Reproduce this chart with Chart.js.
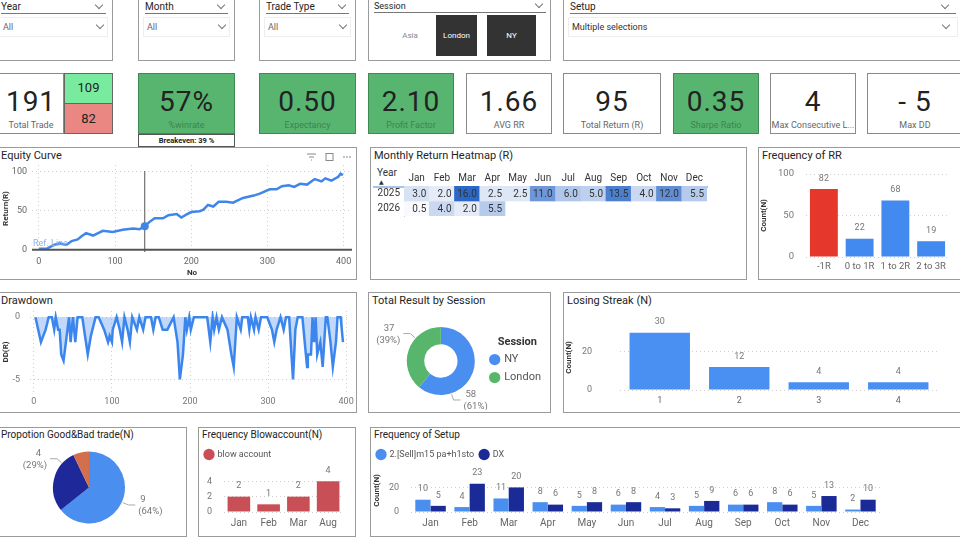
<!DOCTYPE html>
<html>
<head>
<meta charset="utf-8">
<script src="https://cdn.jsdelivr.net/npm/chart.js@4.4.1/dist/chart.umd.min.js"></script>
<style>
body{margin:0;width:960px;height:540px;overflow:hidden;background:#fff;font-family:Roboto,"DejaVu Sans",sans-serif;position:relative}
.box{position:absolute;border:1px solid #9b9b9b;box-sizing:border-box;background:#fff}
.cv{position:absolute}
.ptitle{position:absolute;left:3px;top:1px;font-size:11px;color:#252423;white-space:nowrap}
.sl-title{position:absolute;left:6px;right:6px;top:3px;font-size:10px;color:#252423;border-bottom:1px solid #777;height:12px;line-height:12px}
.sl-drop{position:absolute;left:4px;right:4px;top:19px;height:18px;border:1px solid #eee;font-size:9px;color:#666;line-height:18px;padding-left:3px}
.chev{position:absolute;right:4px;width:5px;height:5px;border-right:1px solid #777;border-bottom:1px solid #777;transform:rotate(45deg)}
.card{position:absolute;top:73px;height:61px;border:1px solid #8a8a8a;box-sizing:border-box;background:#fff;text-align:center}
.card.g{background:#58b56f;border-color:#3d8a52}
.card .v{position:absolute;left:0;right:0;top:12px;font-size:28px;line-height:32px;color:#222;letter-spacing:1px}
.card .l{position:absolute;left:0;right:0;top:45px;font-size:9px;line-height:12px;color:#666;white-space:nowrap}
.card.g .l{color:#3b8551}
.tile{position:absolute;top:14px;height:41px;font-size:8px;line-height:41px;text-align:center}
</style>
</head>
<body>

<!-- slicers -->
<div class="box" style="left:-6px;top:-3px;width:119px;height:64px"><div class="sl-title">Year<span class="chev" style="top:1px"></span></div><div class="sl-drop">All<span class="chev" style="top:4px"></span></div></div>
<div class="box" style="left:138px;top:-3px;width:97px;height:64px"><div class="sl-title">Month<span class="chev" style="top:1px"></span></div><div class="sl-drop">All<span class="chev" style="top:4px"></span></div></div>
<div class="box" style="left:259px;top:-3px;width:97px;height:64px"><div class="sl-title">Trade Type<span class="chev" style="top:1px"></span></div><div class="sl-drop">All<span class="chev" style="top:4px"></span></div></div>
<div class="box" style="left:368px;top:-3px;width:183px;height:64px">
  <div class="sl-title" style="font-size:9px;left:5px;right:4px;top:2px">Session<span class="chev" style="top:1px"></span></div>
  <div class="tile" style="left:22px;width:38px;top:17px;color:#888">Asia</div>
  <div class="tile" style="left:67px;width:41px;top:17px;background:#333;color:#fff">London</div>
  <div class="tile" style="left:118px;width:49px;top:17px;background:#333;color:#fff">NY</div>
</div>
<div class="box" style="left:563px;top:-3px;width:400px;height:64px"><div class="sl-title">Setup<span class="chev" style="top:1px;right:8px"></span></div><div class="sl-drop" style="color:#333">Multiple selections<span class="chev" style="top:4px;right:8px"></span></div></div>

<!-- KPI cards -->
<div class="card" style="left:-2px;width:66px"><div class="v">191</div><div class="l">Total Trade</div></div>
<div class="card" style="left:64px;width:49px;height:31px;background:#78eb9e;border-color:#666"><div class="v" style="top:6px;font-size:13px;line-height:16px;letter-spacing:0">109</div></div>
<div class="card" style="left:64px;top:103px;width:49px;height:31px;background:#ea8782;border-color:#666"><div class="v" style="top:7px;font-size:13px;line-height:16px;letter-spacing:0">82</div></div>
<div class="card g" style="left:138px;width:97px"><div class="v">57%</div><div class="l">%winrate</div></div>
<div class="card" style="left:138px;top:134px;width:97px;height:13px;border-color:#555"><div class="l" style="top:0;font-size:7.5px;line-height:11px;color:#222;font-weight:bold">Breakeven: 39 %</div></div>
<div class="card g" style="left:259px;width:97px"><div class="v">0.50</div><div class="l">Expectancy</div></div>
<div class="card g" style="left:368px;width:86px"><div class="v">2.10</div><div class="l">Profit Factor</div></div>
<div class="card" style="left:466px;width:86px"><div class="v">1.66</div><div class="l">AVG RR</div></div>
<div class="card" style="left:563px;width:98px"><div class="v">95</div><div class="l">Total Return (R)</div></div>
<div class="card g" style="left:673px;width:86px"><div class="v">0.35</div><div class="l">Sharpe Ratio</div></div>
<div class="card" style="left:770px;width:86px"><div class="v">4</div><div class="l">Max Consecutive L...</div></div>
<div class="card" style="left:867px;width:96px"><div class="v">- 5</div><div class="l">Max DD</div></div>

<!-- panels -->
<div class="box" style="left:-3px;top:147px;width:360px;height:133px"><div class="ptitle">Equity Curve</div>
  <svg style="position:absolute;left:306px;top:4px" width="50" height="10">
    <path d="M3 2h9M5 5h5M7 8h1" stroke="#888" stroke-width="1"/>
    <rect x="22" y="1.5" width="7" height="7" fill="none" stroke="#888" stroke-width="1"/>
    <circle cx="40" cy="5" r="0.8" fill="#777"/><circle cx="43" cy="5" r="0.8" fill="#777"/><circle cx="46" cy="5" r="0.8" fill="#777"/>
  </svg>
</div>
<div class="box" style="left:370px;top:147px;width:377px;height:133px"><div class="ptitle">Monthly Return Heatmap (R)</div>
  <div style="position:absolute;left:6px;top:19px;font-size:10px;color:#333">Year</div>
  <div style="position:absolute;left:8px;top:30px;font-size:6px;color:#333">▲</div>
  <div style="position:absolute;left:2px;top:38px;width:335px;height:2px;background:#a9c3e6"></div>
  <div style="position:absolute;left:33px;top:40px;width:1px;height:29px;background:#d0d0d0"></div>
</div>
<div class="box" style="left:758px;top:147px;width:205px;height:133px"><div class="ptitle">Frequency of RR</div></div>
<div class="box" style="left:-3px;top:292px;width:360px;height:121px"><div class="ptitle">Drawdown</div></div>
<div class="box" style="left:368px;top:292px;width:183px;height:121px"><div class="ptitle">Total Result by Session</div></div>
<div class="box" style="left:563px;top:292px;width:400px;height:121px"><div class="ptitle">Losing Streak (N)</div></div>
<div class="box" style="left:-3px;top:427px;width:190px;height:110px"><div class="ptitle" style="font-size:10px">Propotion Good&amp;Bad trade(N)</div></div>
<div class="box" style="left:198px;top:427px;width:158px;height:110px"><div class="ptitle" style="font-size:10px">Frequency Blowaccount(N)</div></div>
<div class="box" style="left:370px;top:427px;width:593px;height:110px"><div class="ptitle" style="font-size:10px">Frequency of Setup</div></div>

<div class="cv" style="left:0;top:162px;width:356px;height:116px"><canvas id="equity"></canvas></div>
<div class="cv" style="left:372px;top:163px;width:340px;height:56px"><canvas id="heat"></canvas></div>
<div class="cv" style="left:758px;top:165px;width:200px;height:113px"><canvas id="rr"></canvas></div>
<div class="cv" style="left:0;top:305px;width:357px;height:106px"><canvas id="dd"></canvas></div>
<div class="cv" style="left:370px;top:312px;width:181px;height:98px"><canvas id="session"></canvas></div>
<div class="cv" style="left:563px;top:315px;width:397px;height:95px"><canvas id="streak"></canvas></div>
<div class="cv" style="left:0;top:440px;width:186px;height:95px"><canvas id="pie"></canvas></div>
<div class="cv" style="left:199px;top:444px;width:157px;height:90px"><canvas id="blow"></canvas></div>
<div class="cv" style="left:371px;top:444px;width:589px;height:90px"><canvas id="setup"></canvas></div>

<script>
// equity curve (trade no -> cumulative R)
let eqNo = [0,10,20,27,36,43,51,56,62,71,84,97,110,124,132,139,146,152,163,170,181,187,194,200,211,216,222,229,236,246,255,259,268,282,290,303,312,319,328,335,343,352,362,371,376,384,393,396,399];
let eqR = [1,1,6,8,6,11,13,17,21,18,24,22.5,25.5,27,26,30,36,40,40,44,45.5,41,45,48,49,51,57,55,61,61,60,62,66,69,71.5,77,77,81,82,80,84,83,90,87,91,88,93,97,95];
let cursorNo = 139;

// drawdown
let ddNo = [2,9,15,19,23,26,28,31,33,35,38,41,45,47,50,53,56,62,69,73,79,83,90,95,97,100,101,106,110,113,116,120,123,126,132,135,140,143,150,153,156,160,165,171,179,184,187,191,194,196,199,201,205,222,226,229,231,234,237,241,248,253,256,260,265,267,274,276,278,282,284,288,291,299,305,308,311,316,320,323,327,332,335,338,344,347,350,351,355,357,359,361,363,367,370,374,376,378,380,383,385,387,389,393,396];
let ddR = [0,-2,-1,0,0,-1,0,-1,-1,-3,-3.5,-2,0,-2,0,-2,0,0,-3,-1.5,0,0,-1,-2,-1.5,-2,-1,0,-1,-2,0,-1,-2,0,-1,0,-1,0,0,-1,0,0,-1,-1,0,-2,-5,-3,0,-1,0,-1,0,0,-2,0,-1,0,-1,0,-1,-3,-4,0,-1,0,0,-1,0,-1,0,-1,0,0,-1,-2,-1,0,-1,0,0,-5,-1,0,0,-2,-4,-3,-3,0,-2,0,-3,-2,-4,0,0,-1,-2,-4,-3,-2,0,0,-2];

// heatmap
let months = ["Jan","Feb","Mar","Apr","May","Jun","Jul","Aug","Sep","Oct","Nov","Dec"];
let years = ["2025","2026"];
let ret2025 = [3.0,2.0,16.0,2.5,2.5,11.0,6.0,5.0,13.5,4.0,12.0,5.5];
let ret2026 = [0.5,4.0,2.0,5.5,null,null,null,null,null,null,null,null];

// frequency of RR
let rrLabels = ["-1R","0 to 1R","1 to 2R","2 to 3R"];
let rrCount = [82,22,68,19];

// session
let sessions = ["NY","London"];
let sessionR = [58,37];

// losing streak
let streakLen = ["1","2","3","4"];
let streakCount = [30,12,4,4];

// good & bad trades
let tradeKinds = ["Good","Bad","Other"];
let tradeKindCount = [9,4,1];

// blow account
let blowMonths = ["Jan","Feb","Mar","Aug"];
let blowCount = [2,1,2,4];

// setups
let setupNames = ["2.[Sell]m15 pa+h1sto","DX"];
let setupSell = [10,4,11,8,5,6,4,5,6,8,5,2];
let setupDX = [5,23,20,6,8,8,3,9,6,6,13,10];

Chart.defaults.font.family = 'Roboto, "DejaVu Sans", sans-serif';
Chart.defaults.font.size = 9;
Chart.defaults.color = "#777";
Chart.defaults.animation = false;
Chart.defaults.maintainAspectRatio = false;
Chart.defaults.plugins.tooltip.enabled = false;

const dotGrid = { color: "#cfcfcf", lineWidth: 1, drawTicks: false };
const dotBorder = { display: false, dash: [1, 3] };
const noGrid = { display: false, drawTicks: false };
// fixed axis sizes, no extra room for edge labels
const fixW = (w) => (s) => { s.width = w; s.paddingTop = 0; s.paddingBottom = 0; };
const fixH = (h) => (s) => { s.height = h; s.paddingLeft = 0; s.paddingRight = 0; };
const setTicks = (vals) => (s) => { s.ticks = vals.map((v) => ({ value: v })); };
const axisTitle = (t) => ({ display: true, text: t, color: "#333", font: { size: 8, weight: "bold" }, padding: 1 });

// numbers above bars
const barLabels = {
  id: "barLabels",
  afterDatasetsDraw(chart) {
    const ctx = chart.ctx;
    ctx.save();
    ctx.font = "9px Roboto";
    ctx.fillStyle = "#777";
    ctx.textAlign = "center";
    ctx.textBaseline = "bottom";
    chart.data.datasets.forEach((ds, i) => {
      chart.getDatasetMeta(i).data.forEach((el, j) => {
        ctx.fillText(ds.data[j], el.x, el.y - 6);
      });
    });
    ctx.restore();
  },
};

// pie / donut labels outside with leader line
const outLabels = {
  id: "outLabels",
  afterDatasetsDraw(chart, args, opts) {
    const ds = chart.data.datasets[0];
    const total = ds.data.reduce((a, b) => a + b, 0);
    const ctx = chart.ctx;
    ctx.save();
    ctx.font = "9.5px Roboto";
    ctx.fillStyle = "#777";
    ctx.strokeStyle = "#aaa";
    ctx.lineWidth = 1;
    chart.getDatasetMeta(0).data.forEach((arc, i) => {
      if (opts.angles[i] == null) return;
      const a = (opts.angles[i] * Math.PI) / 180;
      const r = arc.outerRadius;
      const x0 = arc.x + Math.cos(a) * (r + 1), y0 = arc.y + Math.sin(a) * (r + 1);
      const x1 = arc.x + Math.cos(a) * (r + 7), y1 = arc.y + Math.sin(a) * (r + 7);
      const dir = Math.cos(a) >= 0 ? 1 : -1;
      const x2 = x1 + dir * 7;
      ctx.beginPath();
      ctx.moveTo(x0, y0); ctx.lineTo(x1, y1); ctx.lineTo(x2, y1);
      ctx.stroke();
      const pct = "(" + Math.round((ds.data[i] / total) * 100) + "%)";
      ctx.textAlign = dir > 0 ? "left" : "right";
      ctx.textBaseline = "middle";
      const tx = x2 + dir * 3;
      ctx.fillText(ds.data[i], tx - (dir > 0 ? -2 : 6), y1 - 5);
      ctx.fillText(pct, tx, y1 + 7);
    });
    ctx.restore();
  },
};

// equity: ref line at 0, cursor line and marker
const equityMarks = {
  id: "equityMarks",
  afterDatasetsDraw(chart) {
    const { ctx, chartArea, scales } = chart;
    const y0 = scales.y.getPixelForValue(0);
    ctx.save();
    ctx.strokeStyle = "#555";
    ctx.lineWidth = 2;
    ctx.beginPath(); ctx.moveTo(chartArea.left, y0); ctx.lineTo(chartArea.right, y0); ctx.stroke();
    ctx.fillStyle = "#8db3ea";
    ctx.font = "9px Roboto";
    ctx.textBaseline = "bottom";
    ctx.fillText("Ref. Line", chartArea.left + 1, y0 - 1);
    const xc = scales.x.getPixelForValue(cursorNo);
    ctx.strokeStyle = "#555";
    ctx.lineWidth = 1;
    ctx.beginPath(); ctx.moveTo(xc, chartArea.top + 6); ctx.lineTo(xc, chartArea.bottom); ctx.stroke();
    const idx = eqNo.indexOf(cursorNo);
    ctx.fillStyle = "#3f86e8";
    ctx.beginPath(); ctx.arc(xc, scales.y.getPixelForValue(eqR[idx]), 4, 0, Math.PI * 2); ctx.fill();
    ctx.restore();
  },
};

new Chart("equity", {
  type: "line",
  data: {
    datasets: [{
      data: eqNo.map((n, i) => ({ x: n, y: eqR[i] })),
      borderColor: "#3f86e8", borderWidth: 2.5, pointRadius: 0, tension: 0,
    }],
  },
  options: {
    layout: { padding: { top: 3, right: 4 } },
    plugins: { legend: { display: false } },
    scales: {
      x: {
        type: "linear", min: -9, max: 411,
        afterBuildTicks: setTicks([0, 100, 200, 300, 400]), afterFit: fixH(26),
        grid: dotGrid, border: dotBorder,
        ticks: { color: "#666", maxRotation: 0, padding: 4 },
        title: { display: true, text: "No", color: "#333", font: { size: 8, weight: "bold" }, padding: 0 },
      },
      y: {
        min: -3, max: 108,
        afterBuildTicks: setTicks([0, 50, 100]), afterFit: fixW(32),
        grid: dotGrid, border: dotBorder,
        ticks: { color: "#666", padding: 5 },
        title: axisTitle("Return(R)"),
      },
    },
  },
  plugins: [equityMarks],
});

// heatmap drawn as floating bars, one row per year
const heatValues = [ret2025, ret2026];
function heatColor(v) {
  if (v == null) return "rgba(0,0,0,0)";
  const t = Math.min(1, v / 16);
  const c0 = [255, 255, 255], c1 = [43, 103, 198];
  const c = c0.map((a, k) => Math.round(a + (c1[k] - a) * t));
  return "rgb(" + c.join(",") + ")";
}
const heatText = {
  id: "heatText",
  afterDatasetsDraw(chart) {
    const ctx = chart.ctx;
    ctx.save();
    ctx.font = "10px Roboto";
    ctx.fillStyle = "#333";
    ctx.textAlign = "right";
    ctx.textBaseline = "middle";
    heatValues.forEach((row, r) => {
      chart.getDatasetMeta(r).data.forEach((el, i) => {
        if (row[i] == null) return;
        ctx.fillText(row[i].toFixed(1), el.x + el.width / 2 - 3, (el.y + el.base) / 2 + 0.5);
      });
    });
    ctx.restore();
  },
};
new Chart("heat", {
  type: "bar",
  data: {
    labels: months,
    datasets: heatValues.map((row, r) => ({
      data: row.map((v) => (v == null ? null : [r, r + 1])),
      backgroundColor: row.map(heatColor),
      grouped: false, barPercentage: 1, categoryPercentage: 1, borderWidth: 0,
    })),
  },
  options: {
    layout: { padding: { right: 5, bottom: 3 } },
    plugins: { legend: { display: false } },
    scales: {
      x: {
        position: "top", grid: noGrid, border: { display: false },
        ticks: { color: "#333", font: { size: 10 }, padding: 2 }, afterFit: fixH(23),
      },
      y: {
        min: 0, max: 2, reverse: true,
        afterBuildTicks: setTicks([0.5, 1.5]), afterFit: fixW(32),
        grid: noGrid, border: { display: false },
        ticks: { color: "#333", font: { size: 10 }, padding: 4, callback: (v) => years[Math.floor(v)] },
      },
    },
  },
  plugins: [heatText],
});

new Chart("rr", {
  type: "bar",
  data: {
    labels: rrLabels,
    datasets: [{
      data: rrCount,
      backgroundColor: rrLabels.map((l) => (l === "-1R" ? "#e5372b" : "#4289f0")),
      barPercentage: 0.78, categoryPercentage: 1,
    }],
  },
  options: {
    layout: { padding: { top: 9, right: 9 } },
    plugins: { legend: { display: false } },
    scales: {
      x: { grid: noGrid, border: { display: false }, ticks: { color: "#666", font: { size: 9.5 }, padding: 4 }, afterFit: fixH(21) },
      y: {
        min: 0, max: 100, afterBuildTicks: setTicks([0, 50, 100]), afterFit: fixW(48),
        grid: dotGrid, border: dotBorder,
        ticks: { color: "#777", font: { size: 9.5 }, padding: 12 },
        title: axisTitle("Count(N)"),
      },
    },
  },
  plugins: [barLabels],
});

new Chart("dd", {
  type: "line",
  data: {
    datasets: [{
      data: ddNo.map((n, i) => ({ x: n, y: ddR[i] })),
      borderColor: "#3b86ee", borderWidth: 2.5, pointRadius: 0, tension: 0,
      fill: "origin", backgroundColor: "rgba(66,137,240,0.33)",
    }],
  },
  options: {
    layout: { padding: { top: 6, right: 7 } },
    plugins: { legend: { display: false } },
    scales: {
      x: {
        type: "linear", min: -5, max: 405,
        afterBuildTicks: setTicks([0, 100, 200, 300, 400]), afterFit: fixH(18),
        grid: dotGrid, border: dotBorder,
        ticks: { color: "#777", maxRotation: 0, padding: 3 },
      },
      y: {
        min: -6.1, max: 0.5,
        afterBuildTicks: setTicks([-5, 0]), afterFit: fixW(30),
        grid: dotGrid, border: dotBorder,
        ticks: { color: "#777", padding: 10 },
        title: axisTitle("DD(R)"),
      },
    },
  },
});

new Chart("session", {
  type: "doughnut",
  data: {
    labels: sessions,
    datasets: [{ data: sessionR, backgroundColor: ["#4a8ff0", "#57b56c"], borderWidth: 0, radius: 34, cutout: 21 }],
  },
  options: {
    layout: { padding: { left: 28, top: 4, bottom: 4 } },
    plugins: {
      legend: {
        position: "right",
        title: { display: true, text: "Session", color: "#333", font: { size: 11, weight: "bold" }, padding: { top: 5, bottom: -3 } },
        labels: { usePointStyle: true, pointStyle: "circle", boxWidth: 8, boxHeight: 8, color: "#555", font: { size: 11 }, padding: 7 },
      },
      outLabels: { angles: [72, 222] },
    },
  },
  plugins: [outLabels],
});

new Chart("streak", {
  type: "bar",
  data: { labels: streakLen, datasets: [{ data: streakCount, backgroundColor: "#4a8ff2", barPercentage: 0.76, categoryPercentage: 1 }] },
  options: {
    layout: { padding: { top: 10, right: 22 } },
    plugins: { legend: { display: false } },
    scales: {
      x: { grid: noGrid, border: { display: false }, ticks: { color: "#666", padding: 5 }, afterFit: fixH(20) },
      y: {
        min: 0, max: 34, afterBuildTicks: setTicks([0, 20]), afterFit: fixW(57),
        grid: dotGrid, border: dotBorder,
        ticks: { color: "#777", padding: 28 },
        title: axisTitle("Count(N)"),
      },
    },
  },
  plugins: [barLabels],
});

new Chart("pie", {
  type: "pie",
  data: {
    labels: tradeKinds,
    datasets: [{ data: tradeKindCount, backgroundColor: ["#4a8ff0", "#1f2898", "#d46f4d"], borderWidth: 0, radius: 36 }],
  },
  options: {
    layout: { padding: { right: 8 } },
    plugins: { legend: { display: false }, outLabels: { angles: [24, 222, null] } },
  },
  plugins: [outLabels],
});

new Chart("blow", {
  type: "bar",
  data: { labels: blowMonths, datasets: [{ label: "blow account", data: blowCount, backgroundColor: "#c94f56", barPercentage: 0.76, categoryPercentage: 1 }] },
  options: {
    layout: { padding: { right: 13 } },
    plugins: {
      legend: {
        align: "start",
        labels: { usePointStyle: true, pointStyle: "circle", boxWidth: 8, boxHeight: 8, color: "#555", font: { size: 9 }, padding: 6 },
      },
    },
    scales: {
      x: { grid: noGrid, border: { display: false }, ticks: { color: "#666", font: { size: 10 }, padding: 5 }, afterFit: fixH(22) },
      y: {
        min: 0, max: 5.6, afterBuildTicks: setTicks([0, 2, 4]), afterFit: fixW(25),
        grid: dotGrid, border: dotBorder, ticks: { color: "#777", padding: 12 },
      },
    },
  },
  plugins: [barLabels],
});

new Chart("setup", {
  type: "bar",
  data: {
    labels: months,
    datasets: [
      { label: setupNames[0], data: setupSell, backgroundColor: "#4a8ff0", barPercentage: 1, categoryPercentage: 0.78 },
      { label: setupNames[1], data: setupDX, backgroundColor: "#1a2a96", barPercentage: 1, categoryPercentage: 0.78 },
    ],
  },
  options: {
    layout: { padding: { right: 80 } },
    plugins: {
      legend: {
        align: "start",
        labels: { usePointStyle: true, pointStyle: "circle", boxWidth: 8, boxHeight: 8, color: "#555", font: { size: 9 }, padding: 6 },
      },
    },
    scales: {
      x: { grid: noGrid, border: { display: false }, ticks: { color: "#666", font: { size: 10 }, padding: 5 }, afterFit: fixH(22) },
      y: {
        min: 0, max: 35, afterBuildTicks: setTicks([0, 20]), afterFit: fixW(40),
        grid: dotGrid, border: dotBorder, ticks: { color: "#777", padding: 12 },
        title: axisTitle("Count(N)"),
      },
    },
  },
  plugins: [barLabels],
});
</script>
</body>
</html>
